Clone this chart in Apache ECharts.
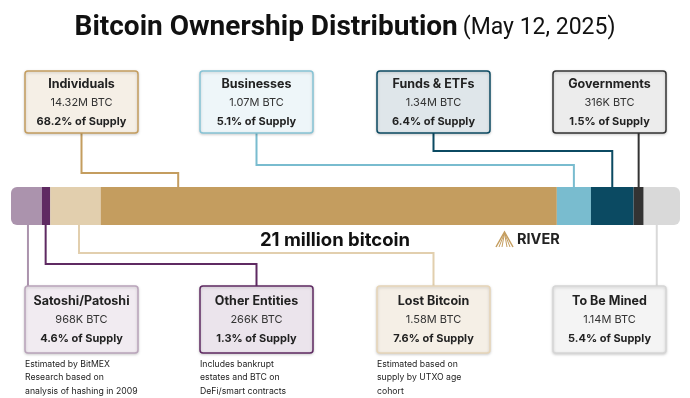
<!DOCTYPE html>
<html>
<head>
<meta charset="utf-8">
<script src="https://cdn.jsdelivr.net/npm/echarts@6/dist/echarts.min.js"></script>
<style>
  html, body { margin: 0; padding: 0; background: #fff; }
  #chart { width: 690px; height: 398px; }
</style>
</head>
<body>
<div id="chart"></div>
<script>
// Supply split, in bar order (left to right)
const SEGMENTS = ['Satoshi/Patoshi', 'Other Entities', 'Lost Bitcoin', 'Individuals', 'Businesses', 'Funds & ETFs', 'Governments', 'To Be Mined']
const BTC_MILLIONS = [0.968, 0.266, 1.58, 14.32, 1.07, 1.34, 0.316, 1.14]
const BTC_LABELS = ['968K BTC', '266K BTC', '1.58M BTC', '14.32M BTC', '1.07M BTC', '1.34M BTC', '316K BTC', '1.14M BTC']
const SUPPLY_PCT = ['4.6', '1.3', '7.6', '68.2', '5.1', '6.4', '1.5', '5.4']
const NOTES = [
  ['Estimated by BitMEX', 'Research based on', 'analysis of hashing in 2009'],
  ['Includes bankrupt', 'estates and BTC on', 'DeFi/smart contracts'],
  ['Estimated based on', 'supply by UTXO age', 'cohort'],
  [], [], [], [], [],
]
const TOTAL_SUPPLY = 21

// Colors per segment
const BAR_COL = ['#ab93ad', '#5f2a62', '#e2cfae', '#c49d5f', '#79bccf', '#0b4a62', '#333333', '#d9d9d9']
const BOX_FILL = ['#f1ebf1', '#ebe4ec', '#f5efe6', '#f5efe6', '#eef6f9', '#dfe6ea', '#ececec', '#f4f4f4']
const BOX_EDGE = ['#b9a4ba', '#5f2a62', '#e6d5b8', '#c49d5f', '#86c3d5', '#0b4a62', '#333333', '#d6d6d6']

// Layout of the callouts
const TOP_ROW = [3, 4, 5, 6]
const BOTTOM_ROW = [0, 1, 2, 7]
const BOX_X = [25, 200, 377, 553]
const BOX_W = 113
const ANCHOR_FRAC = [0.55, 0.45, 0.57, 0.17, 0.5, 0.5, 0.5, 0.36]
const ELBOW_Y = [null, 264, 253, 173, 165, 151, null, null]

const FONT = 'Inter, Roboto, sans-serif'
const BAR_TOP = 187
const BAR_H = 38

const chart = echarts.init(document.getElementById('chart'))

function barSeries(i) {
  let radius = 0
  if (i === 0) radius = [6, 0, 0, 6]
  if (i === SEGMENTS.length - 1) radius = [0, 6, 6, 0]
  return {
    name: SEGMENTS[i],
    type: 'bar',
    stack: 'supply',
    barWidth: BAR_H,
    data: [BTC_MILLIONS[i]],
    itemStyle: { color: BAR_COL[i], borderRadius: radius },
    emphasis: { disabled: true },
    silent: true,
  }
}

chart.setOption({
  animation: false,
  title: {
    left: 'center',
    top: 9,
    text: '{a|Bitcoin Ownership Distribution} {b|(May 12, 2025)}',
    textStyle: {
      rich: {
        a: { fontFamily: 'Roboto', fontWeight: 'bold', fontSize: 28, color: '#111' },
        b: { fontFamily: 'Roboto', fontWeight: 'normal', fontSize: 23, color: '#111' },
      },
    },
  },
  grid: { left: 11, right: 10, top: BAR_TOP, height: BAR_H },
  xAxis: { type: 'value', min: 0, max: TOTAL_SUPPLY, show: false },
  yAxis: { type: 'category', data: ['supply'], show: false },
  series: SEGMENTS.map((_, i) => barSeries(i)),
})

function boxElements(i, x, y, h, titleY) {
  const cx = x + BOX_W / 2
  const els = [
    {
      type: 'rect', z: 10,
      shape: { x, y, width: BOX_W, height: h, r: 3 },
      style: { fill: BOX_FILL[i], stroke: BOX_EDGE[i], lineWidth: 1.5, shadowBlur: 3, shadowOffsetY: 1, shadowColor: 'rgba(0,0,0,0.18)' },
    },
    { type: 'text', z: 11, x: cx, y: titleY, style: { text: SEGMENTS[i], align: 'center', verticalAlign: 'middle', font: 'bold 12.5px ' + FONT, fill: '#222' } },
    { type: 'text', z: 11, x: cx, y: titleY + 19, style: { text: BTC_LABELS[i], align: 'center', verticalAlign: 'middle', font: '11px ' + FONT, fill: '#333' } },
    { type: 'text', z: 11, x: cx, y: titleY + 38, style: { text: SUPPLY_PCT[i] + '% of Supply', align: 'center', verticalAlign: 'middle', font: 'bold 11px ' + FONT, fill: '#222' } },
  ]
  NOTES[i].forEach((line, k) => {
    els.push({ type: 'text', z: 11, x: x, y: y + h + 11 + k * 13.7, style: { text: line, align: 'left', verticalAlign: 'middle', font: '8.7px ' + FONT, fill: '#222' } })
  })
  return els
}

function drawCallouts() {
  const starts = []
  let acc = 0
  BTC_MILLIONS.forEach(v => { starts.push(acc); acc += v })
  const anchorX = i => chart.convertToPixel({ gridIndex: 0 }, [starts[i] + ANCHOR_FRAC[i] * BTC_MILLIONS[i], 'supply'])[0]

  const graphic = []

  // upper callouts
  TOP_ROW.forEach((i, k) => {
    const x = BOX_X[k], y = 71, h = 62
    const bx = x + BOX_W / 2
    const ax = anchorX(i)
    const pts = ELBOW_Y[i] == null
      ? [[ax, y + h], [ax, BAR_TOP]]
      : [[bx, y + h], [bx, ELBOW_Y[i]], [ax, ELBOW_Y[i]], [ax, BAR_TOP]]
    graphic.push({ type: 'polyline', z: 5, shape: { points: pts }, style: { stroke: BAR_COL[i], lineWidth: 2, fill: null } })
    graphic.push(...boxElements(i, x, y, h, 84))
  })

  // lower callouts
  BOTTOM_ROW.forEach((i, k) => {
    const x = BOX_X[k], y = 286, h = 67
    const bx = x + BOX_W / 2
    const ax = anchorX(i)
    const barBottom = BAR_TOP + BAR_H
    const pts = ELBOW_Y[i] == null
      ? [[ax, barBottom], [ax, y]]
      : [[ax, barBottom], [ax, ELBOW_Y[i]], [bx, ELBOW_Y[i]], [bx, y]]
    graphic.push({ type: 'polyline', z: 5, shape: { points: pts }, style: { stroke: BAR_COL[i], lineWidth: 2, fill: null } })
    graphic.push(...boxElements(i, x, y, h, 301))
  })

  // caption under the bar
  graphic.push({ type: 'text', z: 11, x: 335, y: 240, style: { text: '21 million bitcoin', align: 'center', verticalAlign: 'middle', font: 'bold 18.5px ' + FONT, fill: '#111' } })

  // River mark
  const gold = '#c49d5f'
  graphic.push({ type: 'polyline', z: 11, shape: { points: [[496, 247], [504.5, 232], [513, 247]] }, style: { stroke: gold, lineWidth: 1.5, fill: null } })
  ;[[499, 247], [502, 247], [507, 247], [510, 247]].forEach(p => {
    graphic.push({ type: 'line', z: 11, shape: { x1: 504.5, y1: 233, x2: p[0], y2: p[1] }, style: { stroke: gold, lineWidth: 1 } })
  })
  graphic.push({ type: 'text', z: 11, x: 517, y: 240, style: { text: 'RIVER', align: 'left', verticalAlign: 'middle', font: 'bold 14.5px ' + FONT, fill: '#222' } })

  chart.setOption({ graphic })
}

drawCallouts()
</script>
</body>
</html>
